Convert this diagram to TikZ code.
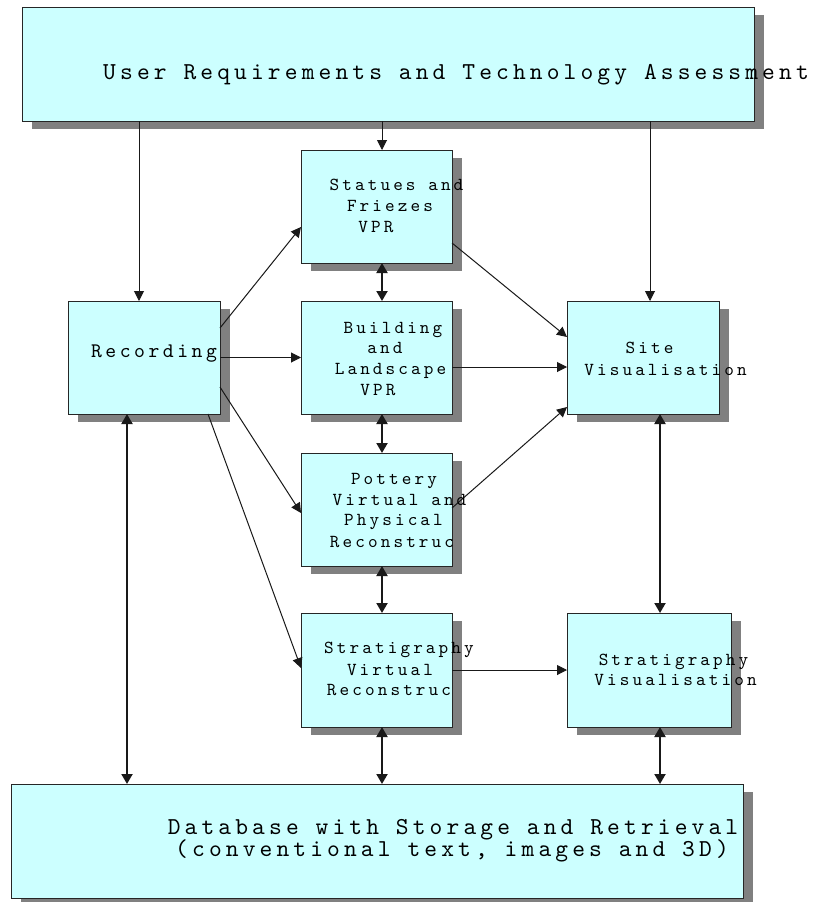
\documentclass[tikz,border=0pt]{standalone}
\usepackage{fontspec}
\newfontfamily\monof{lmmono10-regular.otf}[LetterSpace=17]
\usetikzlibrary{arrows.meta,calc,shadows}
\definecolor{boxfill}{HTML}{CCFFFF}
\definecolor{shadowgray}{HTML}{808080}
\tikzset{
  box/.style={draw=black!85, line width=1pt, fill=boxfill, inner sep=0pt, outer sep=0pt,
    drop shadow={shadow xshift=10pt, shadow yshift=-8pt, fill=shadowgray, opacity=1}},
  lbl/.style={anchor=base, inner sep=0pt, text=black, font=\monof\fontsize{18.3}{22}\selectfont},
  reclbl/.style={lbl, font=\monof\fontsize{20.7}{24}\selectfont},
  biglbl/.style={lbl, font=\monof\fontsize{24.3}{28}\selectfont},
  thinarr/.style={draw=black!90, line width=1pt, -{Triangle[length=10pt,width=10pt]}},
  thickarr/.style={draw=black!90, line width=2pt, {Triangle[length=10pt,width=11pt]}-{Triangle[length=10pt,width=11pt]}}
}
\begin{document}
\begin{tikzpicture}[x=1pt,y=-1pt]
\useasboundingbox (0,0) rectangle (815,902);
% boxes
\node[box, minimum width=732pt, minimum height=114pt] (top) at (388,64) {};
\node[box, minimum width=151pt, minimum height=113pt] (stat) at (376.5,206.5) {};
\node[box, minimum width=152pt, minimum height=113pt] (rec) at (144,357.5) {};
\node[box, minimum width=151pt, minimum height=113pt] (build) at (376.5,357.5) {};
\node[box, minimum width=152pt, minimum height=113pt] (site) at (643,357.5) {};
\node[box, minimum width=151pt, minimum height=113pt] (pot) at (376.5,509.5) {};
\node[box, minimum width=151pt, minimum height=114pt] (svr) at (376.5,670) {};
\node[box, minimum width=164pt, minimum height=114pt] (svis) at (649,670) {};
\node[box, minimum width=732pt, minimum height=114pt] (db) at (377,841) {};
% helper coordinates
\coordinate (p1) at ($(rec.north)+(-5,0)$);
\coordinate (p2) at ($(stat.north)+(5.5,0)$);
\coordinate (p3) at ($(site.north)+(7,0)$);
\coordinate (p9) at ($(build.east)+(0,9.5)$);
\coordinate (p11) at ($(stat.south)+(5.5,0)$);
\coordinate (p12) at ($(build.south)+(5.5,0)$);
\coordinate (p13) at ($(pot.south)+(5.5,0)$);
\coordinate (p15) at ($(site.south)+(17,0)$);
\coordinate (p16) at ($(rec.south)+(-17,0)$);
\coordinate (p17) at ($(svr.south)+(5.5,0)$);
\coordinate (p18) at ($(svis.south)+(11,0)$);
% connectors
\draw[thinarr] (p1 |- top.south) -- (p1);
\draw[thinarr] (p2 |- top.south) -- (p2);
\draw[thinarr] (p3 |- top.south) -- (p3);
\draw[thinarr] ($(rec.north east)+(0,27)$) -- ($(stat.south west)+(0,-36)$);
\draw[thinarr] (rec.east) -- (build.west);
\draw[thinarr] ($(rec.north east)+(0,86)$) -- ($(pot.north west)+(0,60)$);
\draw[thinarr] ($(rec.south east)+(-12,0)$) -- ($(svr.north west)+(0,55)$);
\draw[thinarr] ($(stat.south east)+(0,-20)$) -- ($(site.north west)+(0,36)$);
\draw[thinarr] (p9) -- (p9 -| site.west);
\draw[thinarr] ($(pot.north east)+(0,55)$) -- ($(site.south west)+(0,-7)$);
\draw[thinarr] (svr.east) -- (svis.west);
\draw[thickarr] (p11) -- (p11 |- build.north);
\draw[thickarr] (p12) -- (p12 |- pot.north);
\draw[thickarr] (p13) -- (p13 |- svr.north);
\draw[thickarr] (p15) -- (p15 |- svis.north);
\draw[thickarr] (p16) -- (p16 |- db.north);
\draw[thickarr] (p17) -- (p17 |- db.north);
\draw[thickarr] (p18) -- (p18 |- db.north);
% labels
\node[biglbl] (ttop) at (456,79) {User Requirements and Technology Assessment};
\node[lbl] (tst1) at (396.5,190) {Statues and};
\node[lbl] (tst2) at (390,211) {Friezes};
\node[lbl] (tst3) at (376,232) {VPR};
\node[reclbl] (trec) at (154,357) {Recording};
\node[lbl] (tbu1) at (393,333) {Building};
\node[lbl] (tbu2) at (385,353) {and};
\node[lbl] (tbu3) at (390.5,374) {Landscape};
\node[lbl] (tbu4) at (378,395) {VPR};
\node[lbl] (tsi1) at (649.5,353) {Site};
\node[lbl] (tsi2) at (665.5,375) {Visualisation};
\node[lbl] (tpo1) at (394,484) {Pottery};
\node[lbl] (tpo2) at (399.5,505) {Virtual and};
\node[lbl] (tpo3) at (393.5,525) {Physical};
\node[lbl] (tpo4) at (392,547) {Reconstruc};
\node[lbl] (tsv1) at (399,653) {Stratigraphy};
\node[lbl] (tsv2) at (390,675) {Virtual};
\node[lbl] (tsv3) at (389,695) {Reconstruc};
\node[lbl] (tsz1) at (673.5,665) {Stratigraphy};
\node[lbl] (tsz2) at (675.5,685) {Visualisation};
\node[biglbl] (tdb1) at (453,834) {Database with Storage and Retrieval};
\node[biglbl] (tdb2) at (452,856) {(conventional text, images and 3D)};
\end{tikzpicture}
\end{document}
